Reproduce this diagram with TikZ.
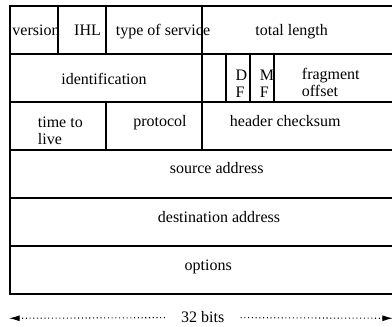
\documentclass[tikz,border=0pt]{standalone}
\usepackage{fontspec}
\setmainfont{Liberation Serif}
\usetikzlibrary{positioning, arrows.meta}

\begin{document}
\begin{tikzpicture}[x=0.75pt, y=-0.75pt,
	field/.style={draw, line width=0.8pt, rectangle, minimum height=36pt, inner sep=0pt, outer sep=0pt, anchor=north west},
	lbl/.style={anchor=base, inner sep=0pt, font=\fontsize{12}{12.8}\selectfont}]
	\useasboundingbox (0,0) rectangle (392,327);
	
	% Header fields (one bit = 9pt)
	\node[field, minimum width=36pt] (version) at (10,6) {};
	\node[field, minimum width=36pt, right=0pt of version] (ihl) {};
	\node[field, minimum width=72pt, right=0pt of ihl] (tos) {};
	\node[field, minimum width=144pt, right=0pt of tos] (totlen) {};
	
	\node[field, minimum width=144pt] (ident) at (version.south west) {};
	\node[field, minimum width=18pt, right=0pt of ident] (unused) {};
	\node[field, minimum width=18pt, right=0pt of unused] (df) {};
	\node[field, minimum width=18pt, right=0pt of df] (mf) {};
	\node[field, minimum width=90pt, right=0pt of mf] (fragoff) {};
	
	\node[field, minimum width=72pt] (ttl) at (ident.south west) {};
	\node[field, minimum width=72pt, right=0pt of ttl] (proto) {};
	\node[field, minimum width=144pt, right=0pt of proto] (checksum) {};
	
	\node[field, minimum width=288pt] (srcaddr) at (ttl.south west) {};
	\node[field, minimum width=288pt] (dstaddr) at (srcaddr.south west) {};
	\node[field, minimum width=288pt] (options) at (dstaddr.south west) {};
	
	% Field names (two-line names sit on their last line)
	\node[lbl] (version-txt) at (36,35.7) {version};
	\node[lbl] (ihl-txt) at (87.5,35.7) {IHL};
	\node[lbl] (tos-txt) at (163,35.7) {type of service};
	\node[lbl] (totlen-txt) at (291.7,35.7) {total length};
	
	\node[lbl] (ident-txt) at (104,85) {identification};
	\node[lbl, align=left] (df-txt) at (241.3,97.3) {D\\F};
	\node[lbl, align=left] (mf-txt) at (267,97.3) {M\\F};
	\node[lbl, align=left] (fragoff-txt) at (330.8,96.9) {fragment\\offset};
	
	\node[lbl, align=left] (ttl-txt) at (60.3,144.7) {time to\\live};
	\node[lbl] (proto-txt) at (160,126.7) {protocol};
	\node[lbl] (checksum-txt) at (285.3,126.7) {header checksum};
	
	\node[lbl] (srcaddr-txt) at (216.7,174) {source address};
	\node[lbl] (dstaddr-txt) at (219,222.3) {destination address};
	\node[lbl] (options-txt) at (208.3,271) {options};
	
	% Width of a row
	\coordinate (wleft) at (9,318.3);
	\coordinate (wright) at (393,318.3);
	\node[lbl, anchor=center, inner xsep=12pt] (bits) at (202.8,317.5) {32 bits};
	\draw[dotted, line width=0.8pt, -{Latex[length=8pt, width=4.5pt]}] (bits) -- (wleft);
	\draw[dotted, line width=0.8pt, -{Latex[length=8pt, width=4.5pt]}] (bits) -- (wright);
\end{tikzpicture}
\end{document}
